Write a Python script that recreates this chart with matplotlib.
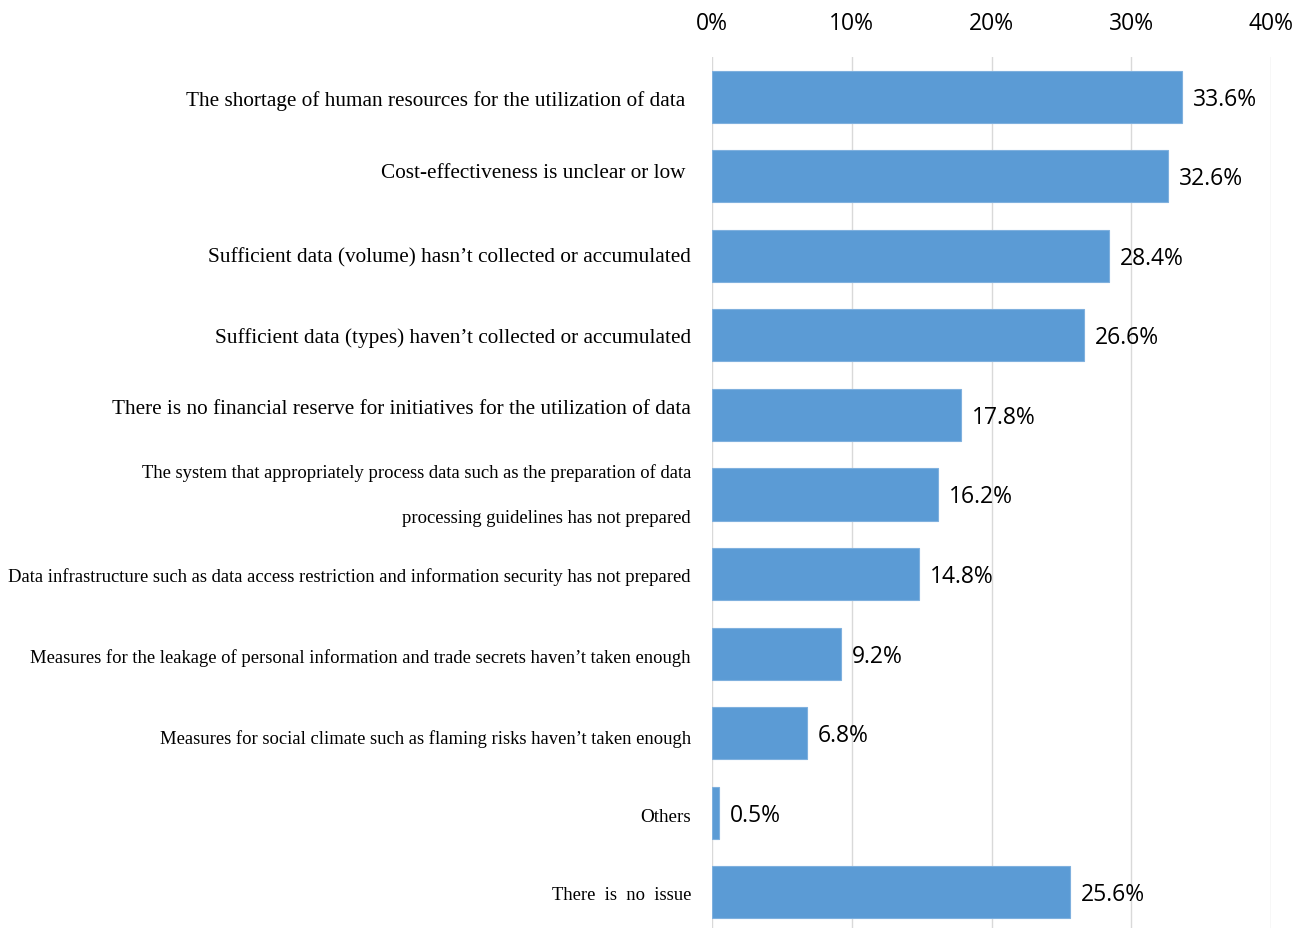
import matplotlib
matplotlib.use("Agg")
import matplotlib.pyplot as plt

categories = [
    "The shortage of human resources for the utilization of data ",
    "Cost-effectiveness is unclear or low ",
    "Sufficient data (volume) hasn\u2019t collected or accumulated",
    "Sufficient data (types) haven\u2019t collected or accumulated",
    "There is no financial reserve for initiatives for the utilization of data",
    "The system that appropriately process data such as the preparation of data\nprocessing guidelines has not prepared",
    "Data infrastructure such as data access restriction and information security has not prepared",
    "Measures for the leakage of personal information and trade secrets haven\u2019t taken enough",
    "Measures for social climate such as flaming risks haven\u2019t taken enough",
    "Others",
    "There  is  no  issue",
]
values = [33.6, 32.6, 28.4, 26.6, 17.8, 16.2, 14.8, 9.2, 6.8, 0.5, 25.6]
xticks = [0, 10, 20, 30, 40]
xtick_labels = ["0%", "10%", "20%", "30%", "40%"]

label_sizes = [15.3, 15.3, 15.3, 15.3, 15.3, 13.4, 13.4, 13.4, 13.4, 13.7, 13.4]
label_dy = [-3, 4, -1, -2, 6, 0, -2, -3, -5, -4, -2]  # small vertical nudges in pixels

W, H = 1308, 929
fig = plt.figure(figsize=(W / 100, H / 100), dpi=100)
ax = fig.add_axes([712 / W, 0, (1271 - 712) / W, 1 - 58 / H])

ypos = list(range(len(categories)))
ax.barh(ypos, values, height=0.655, color="#5B9BD5", edgecolor="#7FB0DE",
        linewidth=0.8, zorder=3)

ax.set_xlim(0, 40)
ax.set_ylim(10.45, -0.5)
ax.set_xticks(xticks)
ax.set_xticklabels(xtick_labels, fontsize=16.5, family="Open Sans")
ax.xaxis.tick_top()
ax.tick_params(axis="x", length=0, pad=15.5)
ax.grid(axis="x", color="#D9D9D9", linewidth=1, zorder=0)

ax.set_yticks(ypos)
ax.set_yticklabels([])
ax.tick_params(axis="y", length=0)

for y, lab, s, dy in zip(ypos, categories, label_sizes, label_dy):
    ax.annotate(lab, xy=(0, y), xycoords=("data", "data"), xytext=(-21, dy),
                textcoords="offset pixels", ha="right", va="center",
                multialignment="right", fontsize=s, family="Liberation Serif",
                linespacing=3.1)

for sp in ax.spines.values():
    sp.set_visible(False)

for y, v in zip(ypos, values):
    ax.annotate(f"{v:.1f}%", xy=(v, y), xytext=(11, -2), textcoords="offset pixels",
                va="center", ha="left", fontsize=16.5, family="Open Sans", color="#000000")

fig.savefig("out.png", dpi=100)
